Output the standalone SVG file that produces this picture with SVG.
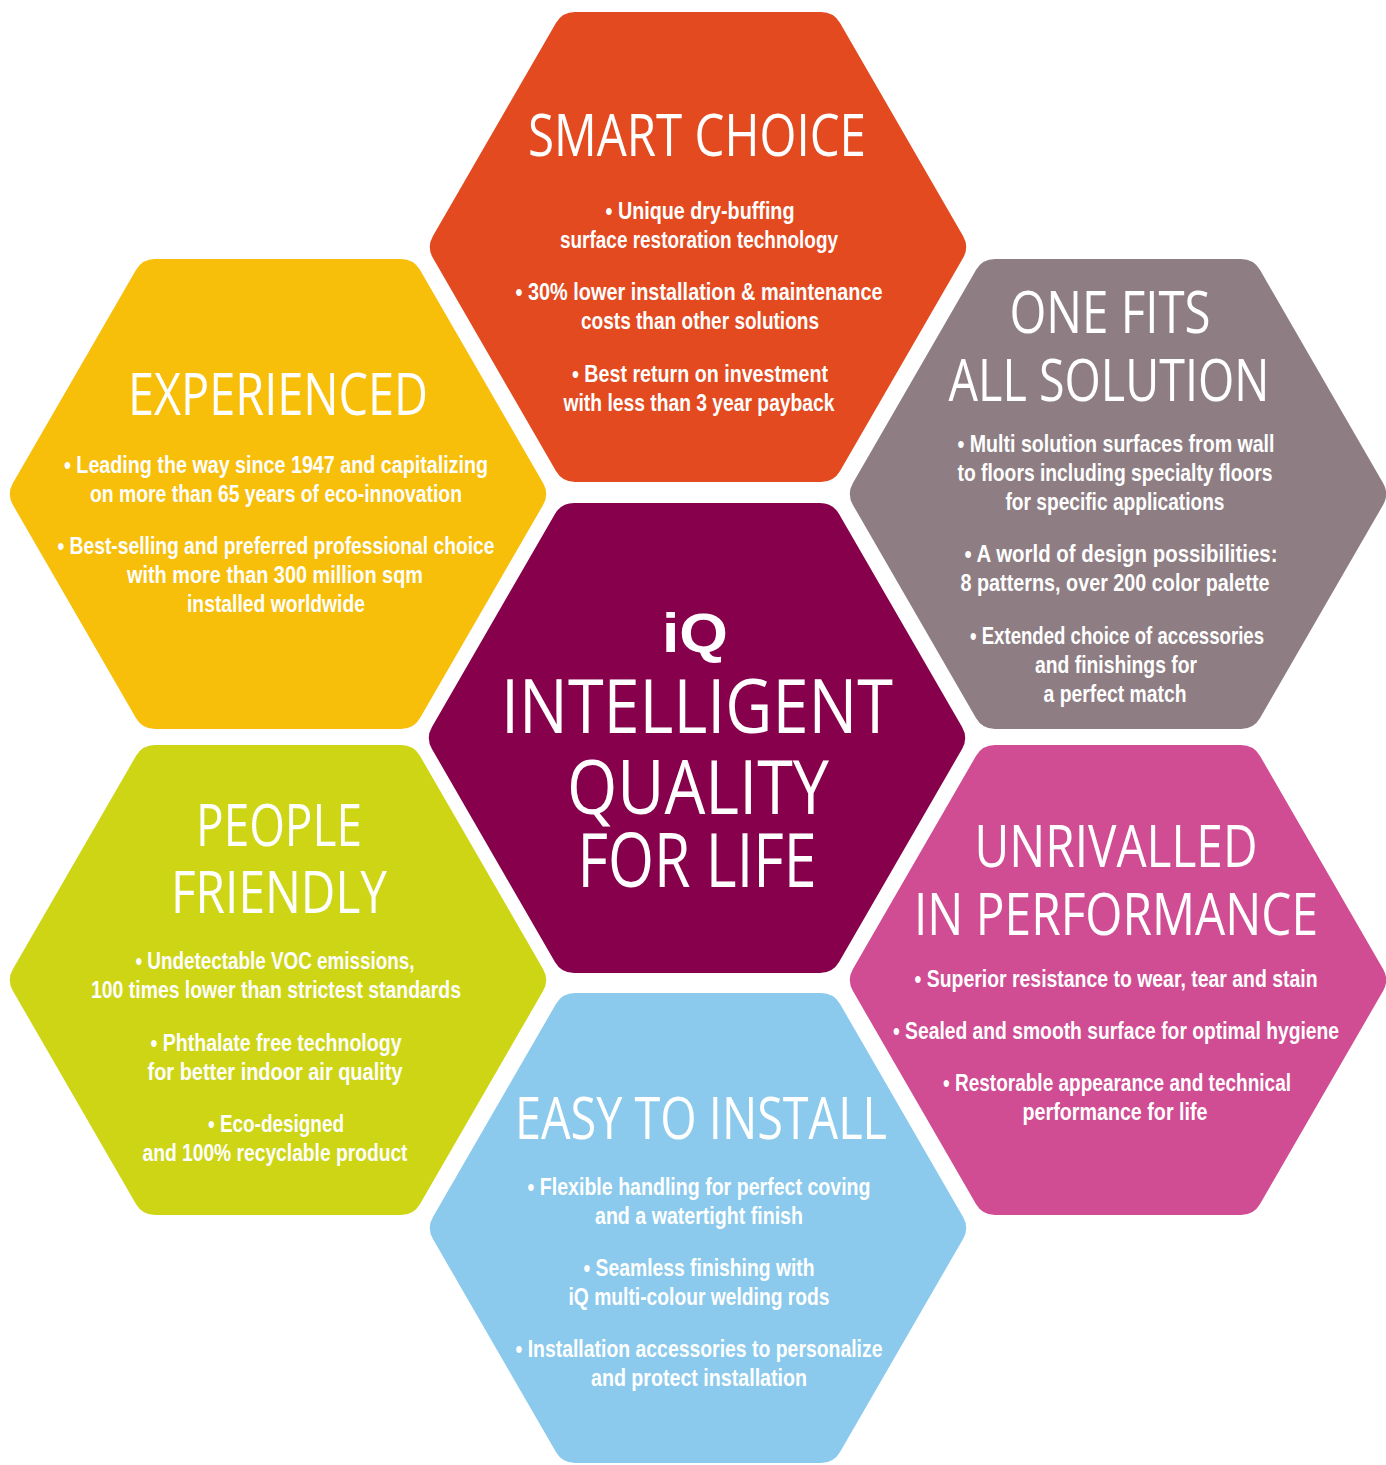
<svg xmlns="http://www.w3.org/2000/svg" xmlns:xlink="http://www.w3.org/1999/xlink" width="1386" height="1465" viewBox="0 0 1386 1465">
<style>
.hex{stroke-width:44;stroke-linejoin:round}
.t{fill:#fff;font-family:"Open Sans","Liberation Sans",sans-serif;font-weight:400;text-anchor:middle}
.tt{font-size:59px}
.tc{font-size:75px}
.b{fill:#fff;font-family:"Liberation Sans","Roboto",sans-serif;font-weight:bold;font-size:24px;text-anchor:middle}
.iq{fill:#fff;font-family:"Liberation Sans","Roboto",sans-serif;font-weight:bold;font-size:56px;text-anchor:middle}
</style>
<defs>
<polygon id="hx" points="-246,0 -123,-213 123,-213 246,0 123,213 -123,213"/>
</defs>
<rect width="1386" height="1465" fill="#fff"/>
<g id="connectors"/>

<g id="smart-choice">
<use xlink:href="#hx" href="#hx" class="hex" x="698" y="247" fill="#E34A1F" stroke="#E34A1F"/>
<text class="t tt" x="697" y="156" textLength="338" lengthAdjust="spacingAndGlyphs">SMART CHOICE</text>
<text class="b" x="700" y="219" textLength="189" lengthAdjust="spacingAndGlyphs">• Unique dry-buffing</text>
<text class="b" x="699" y="248" textLength="278" lengthAdjust="spacingAndGlyphs">surface restoration technology</text>
<text class="b" x="699" y="300" textLength="367" lengthAdjust="spacingAndGlyphs">• 30% lower installation &amp; maintenance</text>
<text class="b" x="700" y="329" textLength="238" lengthAdjust="spacingAndGlyphs">costs than other solutions</text>
<text class="b" x="700" y="382" textLength="256" lengthAdjust="spacingAndGlyphs">• Best return on investment</text>
<text class="b" x="699" y="411" textLength="271" lengthAdjust="spacingAndGlyphs">with less than 3 year payback</text>
</g>

<g id="experienced">
<use xlink:href="#hx" href="#hx" class="hex" x="278" y="494" fill="#F7BE0A" stroke="#F7BE0A"/>
<text class="t tt" x="278" y="415" textLength="300" lengthAdjust="spacingAndGlyphs">EXPERIENCED</text>
<text class="b" x="276" y="473" textLength="424" lengthAdjust="spacingAndGlyphs">• Leading the way since 1947 and capitalizing</text>
<text class="b" x="276" y="502" textLength="372" lengthAdjust="spacingAndGlyphs">on more than 65 years of eco-innovation</text>
<text class="b" x="276" y="554" textLength="437" lengthAdjust="spacingAndGlyphs">• Best-selling and preferred professional choice</text>
<text class="b" x="275" y="583" textLength="296" lengthAdjust="spacingAndGlyphs">with more than 300 million sqm</text>
<text class="b" x="276" y="612" textLength="178" lengthAdjust="spacingAndGlyphs">installed worldwide</text>
</g>

<g id="one-fits-all">
<use xlink:href="#hx" href="#hx" class="hex" x="1118" y="494" fill="#8E7E83" stroke="#8E7E83"/>
<text class="t tt" x="1110" y="333" textLength="201" lengthAdjust="spacingAndGlyphs">ONE FITS</text>
<text class="t tt" x="1109" y="401" textLength="321" lengthAdjust="spacingAndGlyphs">ALL SOLUTION</text>
<text class="b" x="1116" y="452" textLength="317" lengthAdjust="spacingAndGlyphs">• Multi solution surfaces from wall</text>
<text class="b" x="1115" y="481" textLength="315" lengthAdjust="spacingAndGlyphs">to floors including specialty floors</text>
<text class="b" x="1115" y="510" textLength="219" lengthAdjust="spacingAndGlyphs">for specific applications</text>
<text class="b" x="1121" y="562" textLength="313" lengthAdjust="spacingAndGlyphs">• A world of design possibilities:</text>
<text class="b" x="1115" y="591" textLength="309" lengthAdjust="spacingAndGlyphs">8 patterns, over 200 color palette</text>
<text class="b" x="1117" y="644" textLength="294" lengthAdjust="spacingAndGlyphs">• Extended choice of accessories</text>
<text class="b" x="1116" y="673" textLength="162" lengthAdjust="spacingAndGlyphs">and finishings for</text>
<text class="b" x="1115" y="702" textLength="143" lengthAdjust="spacingAndGlyphs">a perfect match</text>
</g>

<g id="center">
<use xlink:href="#hx" href="#hx" class="hex" x="697" y="738" fill="#87004C" stroke="#87004C"/>
<text class="iq" x="695" y="652" textLength="66" lengthAdjust="spacingAndGlyphs">iQ</text>
<text class="t tc" x="697" y="733" textLength="392" lengthAdjust="spacingAndGlyphs">INTELLIGENT</text>
<text class="t tc" x="698" y="814" textLength="262" lengthAdjust="spacingAndGlyphs">QUALITY</text>
<text class="t tc" x="697" y="887" textLength="239" lengthAdjust="spacingAndGlyphs">FOR LIFE</text>
</g>

<g id="people-friendly">
<use xlink:href="#hx" href="#hx" class="hex" x="278" y="980" fill="#CDD515" stroke="#CDD515"/>
<text class="t tt" x="279" y="846" textLength="166" lengthAdjust="spacingAndGlyphs">PEOPLE</text>
<text class="t tt" x="279" y="913" textLength="216" lengthAdjust="spacingAndGlyphs">FRIENDLY</text>
<text class="b" x="275" y="969" textLength="279" lengthAdjust="spacingAndGlyphs">• Undetectable VOC emissions,</text>
<text class="b" x="276" y="998" textLength="370" lengthAdjust="spacingAndGlyphs">100 times lower than strictest standards</text>
<text class="b" x="276" y="1051" textLength="251" lengthAdjust="spacingAndGlyphs">• Phthalate free technology</text>
<text class="b" x="275" y="1080" textLength="255" lengthAdjust="spacingAndGlyphs">for better indoor air quality</text>
<text class="b" x="276" y="1132" textLength="136" lengthAdjust="spacingAndGlyphs">• Eco-designed</text>
<text class="b" x="275" y="1161" textLength="265" lengthAdjust="spacingAndGlyphs">and 100% recyclable product</text>
</g>

<g id="unrivalled">
<use xlink:href="#hx" href="#hx" class="hex" x="1118" y="980" fill="#D04C93" stroke="#D04C93"/>
<text class="t tt" x="1116" y="867" textLength="283" lengthAdjust="spacingAndGlyphs">UNRIVALLED</text>
<text class="t tt" x="1116" y="935" textLength="404" lengthAdjust="spacingAndGlyphs">IN PERFORMANCE</text>
<text class="b" x="1116" y="987" textLength="403" lengthAdjust="spacingAndGlyphs">• Superior resistance to wear, tear and stain</text>
<text class="b" x="1116" y="1039" textLength="446" lengthAdjust="spacingAndGlyphs">• Sealed and smooth surface for optimal hygiene</text>
<text class="b" x="1117" y="1091" textLength="348" lengthAdjust="spacingAndGlyphs">• Restorable appearance and technical</text>
<text class="b" x="1115" y="1120" textLength="185" lengthAdjust="spacingAndGlyphs">performance for life</text>
</g>

<g id="easy-to-install">
<use xlink:href="#hx" href="#hx" class="hex" x="698" y="1228" fill="#8BCAEC" stroke="#8BCAEC"/>
<text class="t tt" x="701" y="1139" textLength="372" lengthAdjust="spacingAndGlyphs">EASY TO INSTALL</text>
<text class="b" x="699" y="1195" textLength="343" lengthAdjust="spacingAndGlyphs">• Flexible handling for perfect coving</text>
<text class="b" x="699" y="1224" textLength="208" lengthAdjust="spacingAndGlyphs">and a watertight finish</text>
<text class="b" x="699" y="1276" textLength="231" lengthAdjust="spacingAndGlyphs">• Seamless finishing with</text>
<text class="b" x="699" y="1305" textLength="261" lengthAdjust="spacingAndGlyphs">iQ multi-colour welding rods</text>
<text class="b" x="699" y="1357" textLength="367" lengthAdjust="spacingAndGlyphs">• Installation accessories to personalize</text>
<text class="b" x="699" y="1386" textLength="216" lengthAdjust="spacingAndGlyphs">and protect installation</text>
</g>
</svg>
